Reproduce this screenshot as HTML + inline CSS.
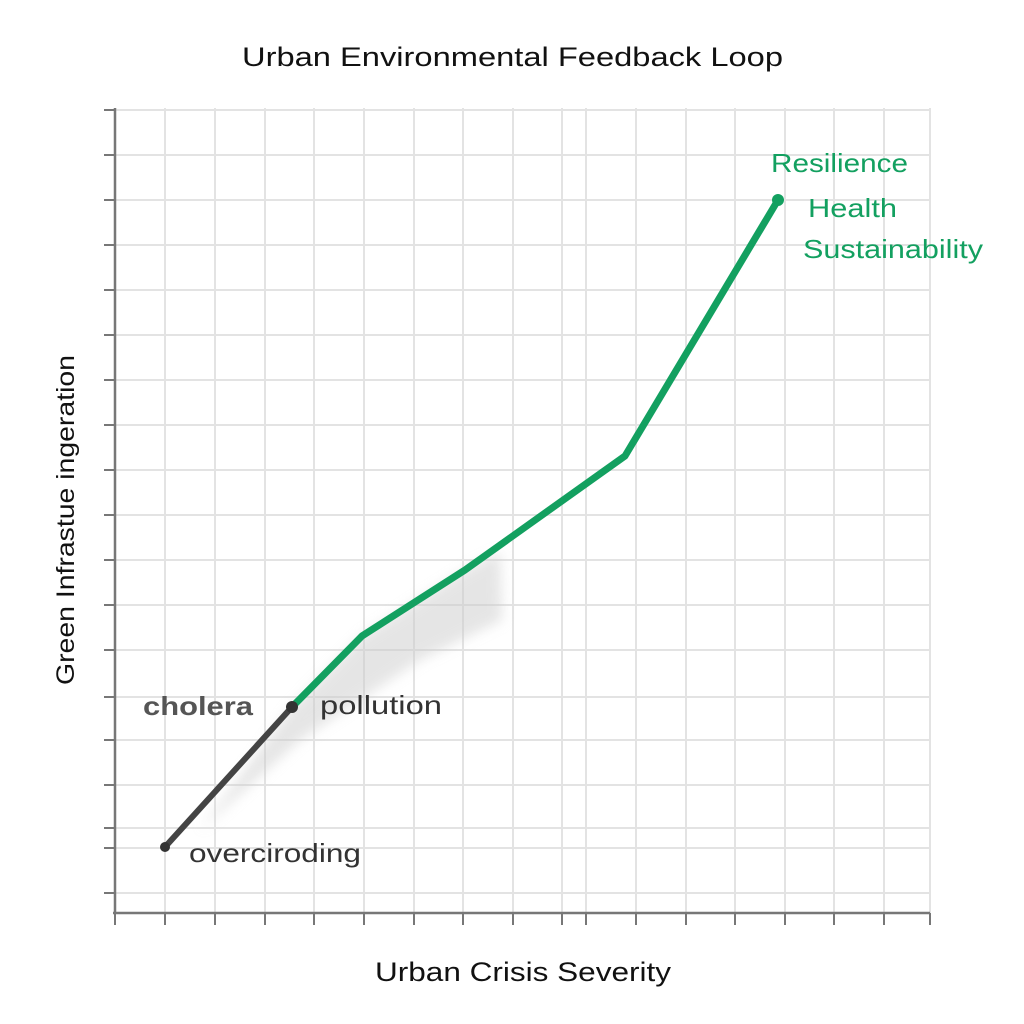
<!DOCTYPE html>
<html><head><style>
body{margin:0;background:#fff;}
svg{display:block;font-family:"Liberation Sans",sans-serif;}
</style></head><body>
<svg width="1024" height="1024" viewBox="0 0 1024 1024">
<defs>
<filter id="blur"><feGaussianBlur stdDeviation="6"/></filter>
</defs>
<text x="242" y="66" font-size="27" textLength="541" lengthAdjust="spacingAndGlyphs" fill="#111">Urban Environmental Feedback Loop</text>
<g stroke="#e3e3e3" stroke-width="2">
<line x1="115" y1="110" x2="930" y2="110"/><line x1="115" y1="155" x2="930" y2="155"/>
<line x1="115" y1="200" x2="930" y2="200"/><line x1="115" y1="245" x2="930" y2="245"/>
<line x1="115" y1="290" x2="930" y2="290"/><line x1="115" y1="335" x2="930" y2="335"/>
<line x1="115" y1="380" x2="930" y2="380"/><line x1="115" y1="425" x2="930" y2="425"/>
<line x1="115" y1="470" x2="930" y2="470"/><line x1="115" y1="515" x2="930" y2="515"/>
<line x1="115" y1="560" x2="930" y2="560"/><line x1="115" y1="605" x2="930" y2="605"/>
<line x1="115" y1="650" x2="930" y2="650"/><line x1="115" y1="697" x2="930" y2="697"/>
<line x1="115" y1="740" x2="930" y2="740"/><line x1="115" y1="785" x2="930" y2="785"/>
<line x1="115" y1="828" x2="930" y2="828"/><line x1="115" y1="848" x2="930" y2="848"/>
<line x1="115" y1="893" x2="930" y2="893"/>
<line x1="165" y1="108" x2="165" y2="913"/><line x1="215" y1="108" x2="215" y2="913"/>
<line x1="265" y1="108" x2="265" y2="913"/><line x1="314" y1="108" x2="314" y2="913"/>
<line x1="364" y1="108" x2="364" y2="913"/><line x1="414" y1="108" x2="414" y2="913"/>
<line x1="463" y1="108" x2="463" y2="913"/><line x1="513" y1="108" x2="513" y2="913"/>
<line x1="562" y1="108" x2="562" y2="913"/><line x1="586" y1="108" x2="586" y2="913"/>
<line x1="636" y1="108" x2="636" y2="913"/><line x1="686" y1="108" x2="686" y2="913"/>
<line x1="735" y1="108" x2="735" y2="913"/><line x1="785" y1="108" x2="785" y2="913"/>
<line x1="834" y1="108" x2="834" y2="913"/><line x1="884" y1="108" x2="884" y2="913"/>
<line x1="930" y1="108" x2="930" y2="913"/>
</g>
<g stroke="#777" stroke-width="2.5">
<line x1="115" y1="108" x2="115" y2="914"/>
<line x1="113" y1="913" x2="930" y2="913"/>
</g>
<g stroke="#777" stroke-width="2">
<line x1="104" y1="110" x2="115" y2="110"/><line x1="104" y1="155" x2="115" y2="155"/>
<line x1="104" y1="200" x2="115" y2="200"/><line x1="104" y1="245" x2="115" y2="245"/>
<line x1="104" y1="290" x2="115" y2="290"/><line x1="104" y1="335" x2="115" y2="335"/>
<line x1="104" y1="380" x2="115" y2="380"/><line x1="104" y1="425" x2="115" y2="425"/>
<line x1="104" y1="470" x2="115" y2="470"/><line x1="104" y1="515" x2="115" y2="515"/>
<line x1="104" y1="560" x2="115" y2="560"/><line x1="104" y1="605" x2="115" y2="605"/>
<line x1="104" y1="650" x2="115" y2="650"/><line x1="104" y1="697" x2="115" y2="697"/>
<line x1="104" y1="740" x2="115" y2="740"/><line x1="104" y1="785" x2="115" y2="785"/>
<line x1="104" y1="828" x2="115" y2="828"/><line x1="104" y1="848" x2="115" y2="848"/>
<line x1="104" y1="893" x2="115" y2="893"/>
<line x1="165" y1="913" x2="165" y2="925"/><line x1="215" y1="913" x2="215" y2="925"/>
<line x1="265" y1="913" x2="265" y2="925"/><line x1="314" y1="913" x2="314" y2="925"/>
<line x1="364" y1="913" x2="364" y2="925"/><line x1="414" y1="913" x2="414" y2="925"/>
<line x1="463" y1="913" x2="463" y2="925"/><line x1="513" y1="913" x2="513" y2="925"/>
<line x1="562" y1="913" x2="562" y2="925"/><line x1="586" y1="913" x2="586" y2="925"/>
<line x1="636" y1="913" x2="636" y2="925"/><line x1="686" y1="913" x2="686" y2="925"/>
<line x1="735" y1="913" x2="735" y2="925"/><line x1="785" y1="913" x2="785" y2="925"/>
<line x1="834" y1="913" x2="834" y2="925"/><line x1="884" y1="913" x2="884" y2="925"/>
<line x1="930" y1="913" x2="930" y2="925"/><line x1="115" y1="913" x2="115" y2="925"/>
</g>
<polygon points="292,707 362,636 465,570 500,552 502,620 420,660 300,740 200,830" fill="#ccc" opacity="0.5" filter="url(#blur)"/>
<polyline points="165,847 292,707" fill="none" stroke="#444" stroke-width="6" stroke-linecap="round"/>
<polyline points="292,707 362,636 465,570 625,456 778,200" fill="none" stroke="#13a060" stroke-width="7" stroke-linejoin="round" stroke-linecap="round"/>
<circle cx="165" cy="847" r="5" fill="#333"/>
<circle cx="292" cy="707" r="6" fill="#333"/>
<circle cx="778" cy="200" r="6" fill="#13a060"/>
<text x="143" y="715" font-size="26" font-weight="bold" textLength="110" lengthAdjust="spacingAndGlyphs" fill="#555">cholera</text>
<text x="320" y="714" font-size="26" textLength="122" lengthAdjust="spacingAndGlyphs" fill="#333">pollution</text>
<text x="189" y="862" font-size="26" textLength="172" lengthAdjust="spacingAndGlyphs" fill="#333">overciroding</text>
<text x="771" y="172" font-size="26" textLength="137" lengthAdjust="spacingAndGlyphs" fill="#13a060">Resilience</text>
<text x="808" y="217" font-size="26" textLength="89" lengthAdjust="spacingAndGlyphs" fill="#13a060">Health</text>
<text x="803" y="258" font-size="26" textLength="180" lengthAdjust="spacingAndGlyphs" fill="#13a060">Sustainability</text>
<text x="375" y="981" font-size="27" textLength="296" lengthAdjust="spacingAndGlyphs" fill="#111">Urban Crisis Severity</text>
<text transform="translate(74,685) rotate(-90)" font-size="25" textLength="330" lengthAdjust="spacingAndGlyphs" fill="#111">Green Infrastue ingeration</text>
</svg>
</body></html>
